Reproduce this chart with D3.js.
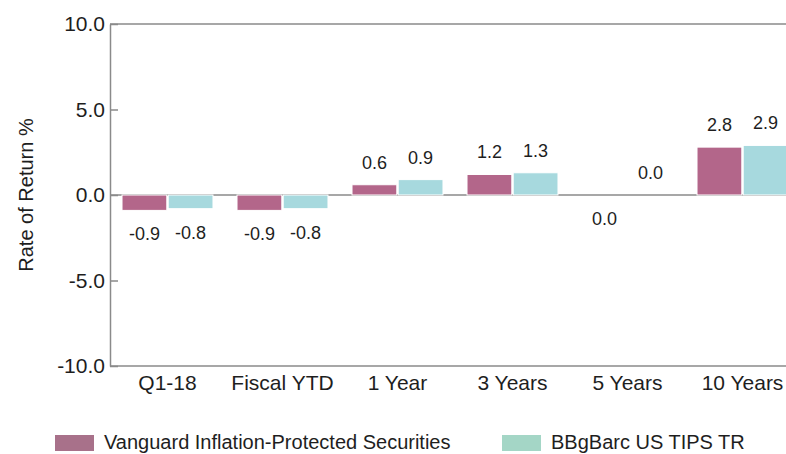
<!DOCTYPE html>
<html>
<head>
<meta charset="utf-8">
<script src="https://cdn.jsdelivr.net/npm/d3@7/dist/d3.min.js"></script>
<style>
  html, body { margin: 0; padding: 0; background: #fff; }
  svg { display: block; font-family: "Liberation Sans", Arial, sans-serif; }
</style>
</head>
<body>
<svg id="chart" width="786" height="454"></svg>
<script>
// Periods shown along the x axis
const categories = ["Q1-18", "Fiscal YTD", "1 Year", "3 Years", "5 Years", "10 Years"];
// Series names
const seriesNames = ["Vanguard Inflation-Protected Securities", "BBgBarc US TIPS TR"];
// Rate of return (%) per period; -0.0 is a tiny loss that rounds to zero
const fundReturns = [-0.9, -0.9, 0.6, 1.2, -0.0, 2.8];
const benchReturns = [-0.8, -0.8, 0.9, 1.3, 0.0, 2.9];
// Y axis ticks
const yTicks = [-10, -5, 0, 5, 10];

const barColors = ["#b3668a", "#a7d9de"];
const legendColors = ["#a8718a", "#a4d6c6"];
const axisColor = "#8a8a8a";
const textColor = "#1e1e1e";

// one decimal, plain hyphen for negatives
const fmt = v => (Math.abs(v) < 1e-9 ? 0 : v).toFixed(1);

const svg = d3.select("#chart");
const plotLeft = 110, plotRight = 800, plotTop = 24, plotBottom = 366;

const y = d3.scaleLinear().domain([-10, 10]).range([plotBottom, plotTop]);
const x = d3.scaleBand().domain(categories).range([plotLeft, plotRight])
  .paddingInner(0.209).paddingOuter(0.1045);
const xs = d3.scaleBand().domain([0, 1]).range([0, x.bandwidth()]).paddingInner(0.03);

// zero reference line (bars are drawn over it)
svg.append("line")
  .attr("x1", plotLeft).attr("x2", plotRight)
  .attr("y1", y(0)).attr("y2", y(0))
  .attr("stroke", axisColor).attr("stroke-width", 1.5);

const rows = categories.map((c, i) => ({ cat: c, vals: [fundReturns[i], benchReturns[i]] }));
const isNeg = v => v < 0 || Object.is(v, -0);

const groups = svg.append("g").selectAll("g").data(rows).join("g")
  .attr("transform", d => `translate(${x(d.cat)},0)`);

groups.selectAll("rect").data(d => d.vals.map((v, s) => ({ v, s }))).join("rect")
  .attr("x", d => xs(d.s))
  .attr("width", xs.bandwidth())
  .attr("y", d => Math.min(y(d.v), y(0)))
  .attr("height", d => Math.abs(y(d.v) - y(0)))
  .attr("fill", d => barColors[d.s])
  .attr("stroke", "#fff").attr("stroke-width", 1);

groups.selectAll("text").data(d => d.vals.map((v, s) => ({ v, s }))).join("text")
  .attr("x", d => xs(d.s) + xs.bandwidth() / 2)
  .attr("y", d => isNeg(d.v) ? y(d.v) + 30 : y(d.v) - 16)
  .attr("text-anchor", "middle")
  .attr("font-size", 18)
  .attr("fill", textColor)
  .text(d => fmt(d.v));

// frame: top and bottom borders
svg.append("line").attr("x1", plotLeft).attr("x2", plotRight).attr("y1", plotTop).attr("y2", plotTop)
  .attr("stroke", axisColor).attr("stroke-width", 1.5);
svg.append("line").attr("x1", plotLeft).attr("x2", plotRight).attr("y1", plotBottom).attr("y2", plotBottom)
  .attr("stroke", axisColor).attr("stroke-width", 1.5);

// y axis with inward ticks
const yAxis = d3.axisLeft(y).tickValues(yTicks).tickFormat(fmt)
  .tickSizeInner(-8).tickSizeOuter(0).tickPadding(5);
const ya = svg.append("g").attr("transform", `translate(${plotLeft},0)`).call(yAxis);
ya.select(".domain").attr("stroke", axisColor).attr("stroke-width", 1.5);
ya.selectAll(".tick line").attr("stroke", axisColor).attr("stroke-width", 1.5);
ya.selectAll(".tick text")
  .attr("font-size", 21).attr("fill", textColor)
  .attr("font-family", "Liberation Sans, Arial, sans-serif");

// x category labels
const xAxis = d3.axisBottom(x).tickSize(0).tickPadding(0);
const xa = svg.append("g").attr("transform", `translate(0,${plotBottom})`).call(xAxis);
xa.select(".domain").remove();
xa.selectAll(".tick text")
  .attr("y", 24).attr("dy", 0)
  .attr("font-size", 21).attr("fill", textColor)
  .attr("font-family", "Liberation Sans, Arial, sans-serif");

// y axis title
svg.append("text")
  .attr("transform", `translate(33,${(plotTop + plotBottom) / 2}) rotate(-90)`)
  .attr("text-anchor", "middle")
  .attr("font-size", 20)
  .attr("fill", textColor)
  .text("Rate of Return %");

// legend
const legendX = [55, 502];
const legend = svg.append("g").selectAll("g").data(seriesNames).join("g")
  .attr("transform", (d, i) => `translate(${legendX[i]},435)`);
legend.append("rect").attr("width", 39).attr("height", 16)
  .attr("fill", (d, i) => legendColors[i]);
legend.append("text").attr("x", 49).attr("y", 14)
  .attr("font-size", 20).attr("fill", textColor)
  .text(d => d);
</script>
</body>
</html>
